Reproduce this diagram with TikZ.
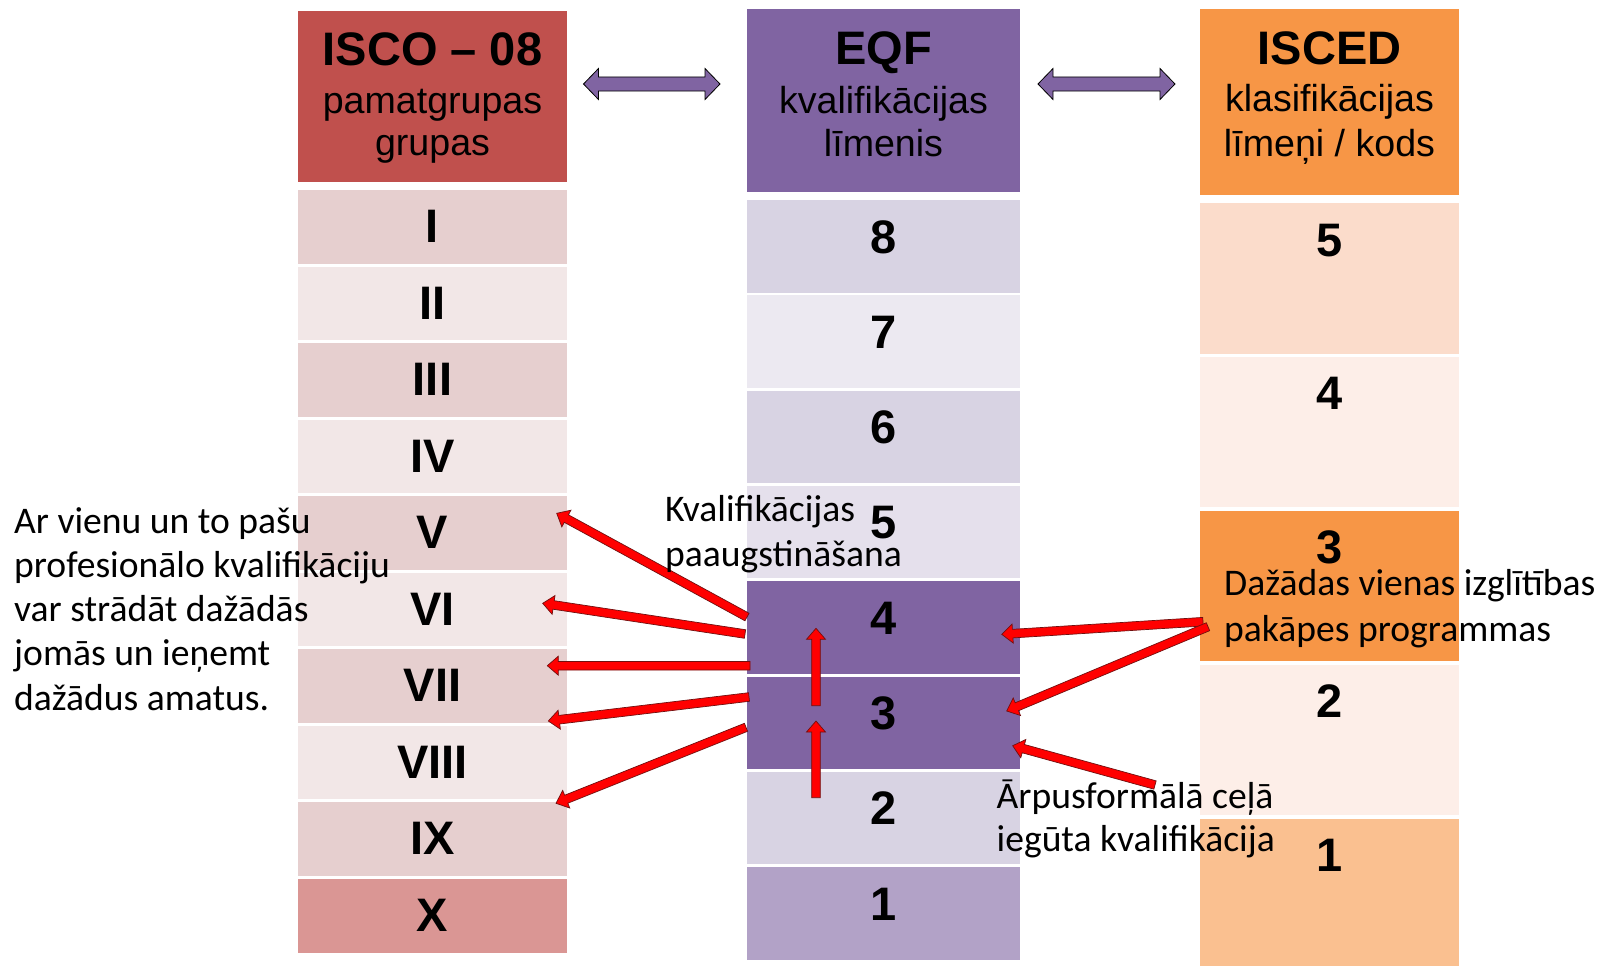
\documentclass[tikz,border=0pt]{standalone}
\usepackage{fontspec}
\setmainfont{Liberation Sans}
\newfontfamily\calib{Carlito}
\usetikzlibrary{calc}

\definecolor{iscoH}{HTML}{C0504D}
\definecolor{iscoA}{HTML}{E6CFCF}
\definecolor{iscoB}{HTML}{F2E7E7}
\definecolor{iscoX}{HTML}{DA9694}
\definecolor{eqfH}{HTML}{8064A2}
\definecolor{eqfA}{HTML}{D8D3E3}
\definecolor{eqfB}{HTML}{ECE9F1}
\definecolor{eqfC}{HTML}{E5E0EC}
\definecolor{eqfL}{HTML}{B2A2C7}
\definecolor{iscH}{HTML}{F79646}
\definecolor{iscA}{HTML}{FBDCCB}
\definecolor{iscB}{HTML}{FDEEE8}
\definecolor{iscL}{HTML}{FAC090}
\definecolor{arrRed}{HTML}{FF0000}
\definecolor{arrEdge}{HTML}{701010}

\tikzset{
  cell/.style={rectangle, draw=none, inner sep=0pt, outer sep=0pt, anchor=north west},
  num/.style={inner sep=0pt, font=\fontsize{47}{50}\selectfont\bfseries, anchor=base},
  htitle/.style={inner sep=0pt, font=\fontsize{47}{50}\selectfont\bfseries, anchor=base},
  hsub/.style={inner sep=0pt, font=\fontsize{37.6}{44}\selectfont, anchor=base},
  note/.style={inner sep=0pt, anchor=base west},
  redarr/.style={fill=arrRed, draw=arrEdge, line width=0.7pt, line join=miter},
  dblarr/.style={fill=eqfH, draw=black, line width=0.8pt, line join=miter},
}

\newcommand\redarrow[2]{%
  \coordinate (rah) at ($(#2)!11pt!(#1)$);
  \filldraw[redarr] ($(#1)!4.3pt!90:(#2)$) -- ($(rah)!4.3pt!-90:(#1)$) -- ($(rah)!9.5pt!-90:(#1)$) -- (#2) -- ($(rah)!9.5pt!90:(#1)$) -- ($(rah)!4.3pt!90:(#1)$) -- ($(#1)!4.3pt!-90:(#2)$) -- cycle;}

\newcommand\dblarrow[2]{%
  \filldraw[dblarr] (#1) -- ($(#1)+(15,-15.5)$) -- ($(#1)+(15,-7)$) -- ($(#2)+(-15,-7)$) -- ($(#2)+(-15,-15.5)$) -- (#2) -- ($(#2)+(-15,15.5)$) -- ($(#2)+(-15,7)$) -- ($(#1)+(15,7)$) -- ($(#1)+(15,15.5)$) -- cycle;}

\begin{document}
\begin{tikzpicture}[x=1pt, y=-1pt]
\useasboundingbox (0,0) rectangle (1598,966);
\fill[white] (0,0) rectangle (1598,966);
\clip (0,0) rectangle (1598,966);

% ---------- ISCO column ----------
\node[cell, fill=iscoH, minimum width=269pt, minimum height=170pt] (iscoHead) at (298,11.5) {};
\foreach \lab/\col [count=\i from 0] in {I/iscoA, II/iscoB, III/iscoA, IV/iscoB, V/iscoA, VI/iscoB, VII/iscoA, VIII/iscoB, IX/iscoA, X/iscoX} {
  \pgfmathsetmacro\yy{190+76.56*\i}
  \node[cell, fill=\col, minimum width=269pt, minimum height=73.5pt] (isco\i) at (298,\yy) {};
  \node[num] (iscoN\i) at (432.5,\yy+52.5) {\lab};
}

% ---------- EQF column ----------
\node[cell, fill=eqfH, minimum width=273pt, minimum height=182pt] (eqfHead) at (747,9.5) {};
\foreach \lab/\col [count=\i from 0] in {8/eqfA, 7/eqfB, 6/eqfA, 5/eqfC, 4/eqfH, 3/eqfH, 2/eqfA, 1/eqfL} {
  \pgfmathsetmacro\yy{200+95.3*\i}
  \node[cell, fill=\col, minimum width=273pt, minimum height=92.5pt] (eqf\i) at (747,\yy) {};
  \node[num] (eqfN\i) at (883.5,\yy+53) {\lab};
}

% ---------- ISCED column ----------
\node[cell, fill=iscH, minimum width=259pt, minimum height=185pt] (iscHead) at (1200,9.5) {};
\foreach \lab/\col [count=\i from 0] in {5/iscA, 4/iscB, 3/iscH, 2/iscB, 1/iscL} {
  \pgfmathsetmacro\yy{203+153.9*\i}
  \node[cell, fill=\col, minimum width=259pt, minimum height=150.5pt] (isc\i) at (1200,\yy) {};
  \node[num] (iscN\i) at (1329.5,\yy+53) {\lab};
}

% ---------- header texts ----------
\node[htitle] (iscoT1) at (432.5,65.7) {ISCO – 08};
\node[hsub] (iscoT2) at (432.5,113.3) {pamatgrupas};
\node[hsub] (iscoT3) at (432.5,155.5) {grupas};
\node[htitle] (eqfT1) at (883.5,65) {EQF};
\node[hsub] (eqfT2) at (883.5,113.3) {kvalifikācijas};
\node[hsub] (eqfT3) at (883.5,156) {līmenis};
\node[htitle] (iscT1) at (1329.5,64.5) {ISCED};
\node[hsub] (iscT2) at (1329.5,111.7) {klasifikācijas};
\node[hsub] (iscT3) at (1329.5,156.5) {līmeņi / kods};

% ---------- double arrows between headers ----------
\coordinate (d1l) at (583.5,84);
\coordinate (d1r) at (720,84);
\coordinate (d2l) at (1038,84);
\coordinate (d2r) at (1175,84);
\dblarrow{d1l}{d1r}
\dblarrow{d2l}{d2r}

% ---------- red arrows ----------
\coordinate (a1s) at (747,617);    \coordinate (a1t) at (556.7,513.3);
\coordinate (a2s) at (745,634);    \coordinate (a2t) at (542.7,603.3);
\coordinate (a3s) at (750,665.7);  \coordinate (a3t) at (547.3,665.7);
\coordinate (a4s) at (749,697);    \coordinate (a4t) at (548.3,721);
\coordinate (a5s) at (746,727.3);  \coordinate (a5t) at (556,803.3);
\coordinate (a6s) at (816,705.7);  \coordinate (a6t) at (816,628.3);
\coordinate (a7s) at (816,797.7);  \coordinate (a7t) at (816,721);
\coordinate (a8s) at (1203,621.7); \coordinate (a8t) at (1001.7,634.3);
\coordinate (a9s) at (1208,626.7); \coordinate (a9t) at (1006.7,711);
\coordinate (a10s) at (1155,785);  \coordinate (a10t) at (1012.7,745.7);
\redarrow{a1s}{a1t}
\redarrow{a2s}{a2t}
\redarrow{a3s}{a3t}
\redarrow{a4s}{a4t}
\redarrow{a5s}{a5t}
\redarrow{a6s}{a6t}
\redarrow{a7s}{a7t}
\redarrow{a8s}{a8t}
\redarrow{a9s}{a9t}
\redarrow{a10s}{a10t}

% ---------- annotation texts ----------
\node[note, font=\calib\fontsize{37.6}{44.2}\selectfont] (noteL) at (14,533.3)
  {\begin{tabular}[t]{@{}l@{}}Ar vienu un to pašu\\profesionālo kvalifikāciju\\var strādāt dažādās\\jomās un ieņemt\\dažādus amatus.\end{tabular}};
\node[note, font=\calib\fontsize{37.6}{45}\selectfont] (noteK) at (665,521.7)
  {\begin{tabular}[t]{@{}l@{}}Kvalifikācijas\\paaugstināšana\end{tabular}};
\node[note, font=\calib\fontsize{37.6}{46}\selectfont] (noteD) at (1224,595.7)
  {\begin{tabular}[t]{@{}l@{}}Dažādas vienas izglītības\\pakāpes programmas\end{tabular}};
\node[note, font=\calib\fontsize{37.6}{43.7}\selectfont] (noteA) at (996.5,808)
  {\begin{tabular}[t]{@{}l@{}}Ārpusformālā ceļā\\iegūta kvalifikācija\end{tabular}};
\end{tikzpicture}
\end{document}
